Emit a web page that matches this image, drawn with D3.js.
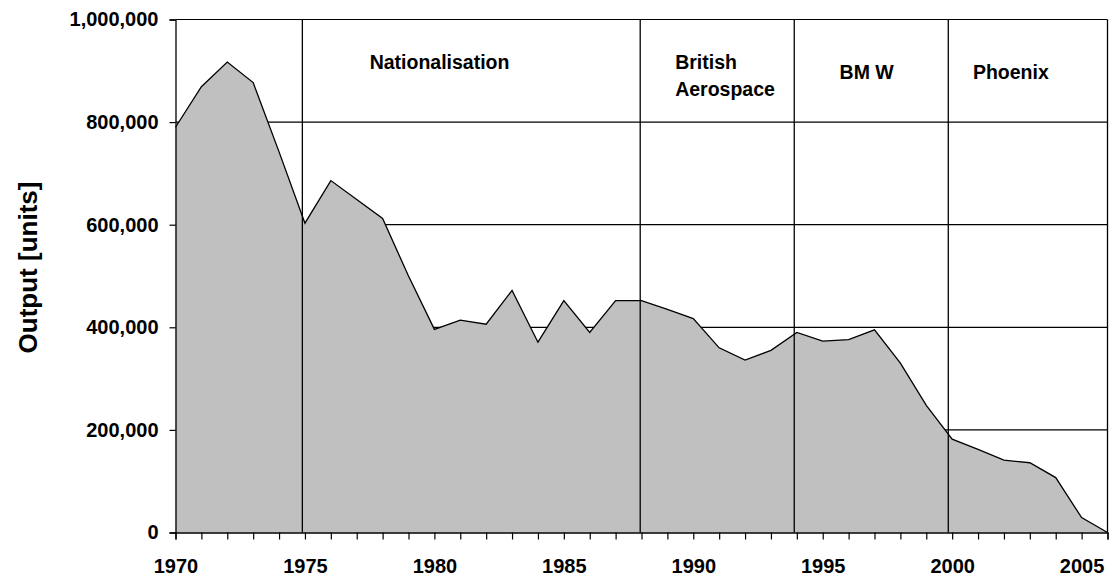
<!doctype html>
<html lang="en">
<head>
    <meta charset="UTF-8">
    <script src="https://cdnjs.cloudflare.com/ajax/libs/d3/7.0.0/d3.min.js"></script>
    <title>Output</title>
    <style>
        body { margin: 0; background: #fff; }
        text { font-family: "Liberation Sans", Arial, sans-serif; font-weight: bold; fill: #000; }
    </style>
</head>
<body>

<div id="Area"></div>

<script>

    // yearly output, units
    const years = [1970, 1971, 1972, 1973, 1974, 1975, 1976, 1977, 1978, 1979,
        1980, 1981, 1982, 1983, 1984, 1985, 1986, 1987, 1988, 1989,
        1990, 1991, 1992, 1993, 1994, 1995, 1996, 1997, 1998, 1999,
        2000, 2001, 2002, 2003, 2004, 2005, 2006];
    const output = [790000, 869000, 917000, 877000, 742000, 603000, 686000, 649000, 612000, 500000,
        396000, 414000, 406000, 472000, 371000, 452000, 390000, 452000, 452000, 435000,
        417000, 360000, 336000, 355000, 390000, 373000, 376000, 395000, 330000, 248000,
        182000, 162000, 141000, 136000, 107000, 29000, 0];

    // ownership periods
    const eraBounds = [1974.9, 1987.95, 1993.9, 1999.85];
    const eraLabels = [["Nationalisation"], ["British", "Aerospace"], ["BM W"], ["Phoenix"]];
    const eraLabelYear = [1980.2, 1989.3, 1995.65, 2000.8];

    const yTicks = [0, 200000, 400000, 600000, 800000, 1000000];
    const xLabelYears = [1970, 1975, 1980, 1985, 1990, 1995, 2000, 2005];

    const W = 1112, H = 580;
    const plot = {left: 175.5, right: 1107.5, top: 19.5, bottom: 532.5};

    const svg = d3.select("#Area")
        .append("svg")
        .attr("width", W)
        .attr("height", H);

    const x = d3.scaleLinear().domain([1970, 2006]).range([plot.left, plot.right]);
    const y = d3.scaleLinear().domain([0, 1000000]).range([plot.bottom, plot.top]);

    // horizontal grid (behind the area)
    svg.append("g")
        .selectAll("line")
        .data(yTicks.slice(1))
        .join("line")
        .attr("x1", plot.left).attr("x2", plot.right)
        .attr("y1", d => y(d))
        .attr("y2", d => y(d))
        .attr("stroke", "#000")
        .attr("stroke-width", 1.2);

    const pts = years.map((yr, i) => [yr, output[i]]);

    const area = d3.area()
        .x(d => x(d[0]))
        .y0(y(0))
        .y1(d => y(d[1]));

    svg.append("path")
        .datum(pts)
        .attr("d", area)
        .attr("fill", "#c0c0c0");

    const line = d3.line()
        .x(d => x(d[0]))
        .y(d => y(d[1]));

    svg.append("path")
        .datum(pts)
        .attr("d", line)
        .attr("fill", "none")
        .attr("stroke", "#000")
        .attr("stroke-width", 1.3);

    // period dividers, on top of the area
    svg.append("g")
        .selectAll("line")
        .data(eraBounds.concat([2006]))
        .join("line")
        .attr("x1", d => x(d)).attr("x2", d => x(d))
        .attr("y1", plot.top).attr("y2", plot.bottom)
        .attr("stroke", "#000")
        .attr("stroke-width", 1.3);

    // axes
    const yAxis = d3.axisLeft(y)
        .tickValues(yTicks)
        .tickSize(6)
        .tickPadding(11)
        .tickFormat(d3.format(","));

    const gy = svg.append("g")
        .attr("transform", "translate(" + plot.left + ",0)")
        .call(yAxis);
    gy.select(".domain").attr("stroke-width", 1.3);
    gy.selectAll(".tick line").attr("stroke-width", 1.2);
    gy.selectAll("text")
        .attr("font-size", 20)
        .attr("font-family", "'Liberation Sans', Arial, sans-serif")
        .attr("font-weight", "bold");

    const xAxis = d3.axisBottom(x)
        .tickValues(years)
        .tickSize(7)
        .tickPadding(19)
        .tickFormat(d => xLabelYears.includes(d) ? d : "");

    const gx = svg.append("g")
        .attr("transform", "translate(0," + plot.bottom + ")")
        .call(xAxis);
    gx.select(".domain").attr("stroke-width", 1.3);
    gx.selectAll(".tick line").attr("stroke-width", 1.2);
    gx.selectAll("text")
        .attr("font-size", 20)
        .attr("font-family", "'Liberation Sans', Arial, sans-serif")
        .attr("font-weight", "bold");

    // y axis title
    svg.append("text")
        .attr("transform", "translate(37,267.5) rotate(-90)")
        .attr("text-anchor", "middle")
        .attr("font-size", 26)
        .text("Output [units]");

    // period labels
    eraLabels.forEach((lines, i) => {
        const t = svg.append("text")
            .attr("font-size", 19.5)
            .attr("text-anchor", i === 0 ? "middle" : "start");
        const y0 = (i === 0 || lines.length > 1) ? 69 : 79;
        lines.forEach((s, j) => {
            t.append("tspan")
                .attr("x", x(eraLabelYear[i]))
                .attr("y", y0 + j * 26.7)
                .text(s);
        });
    });

</script>
</body>
</html>
